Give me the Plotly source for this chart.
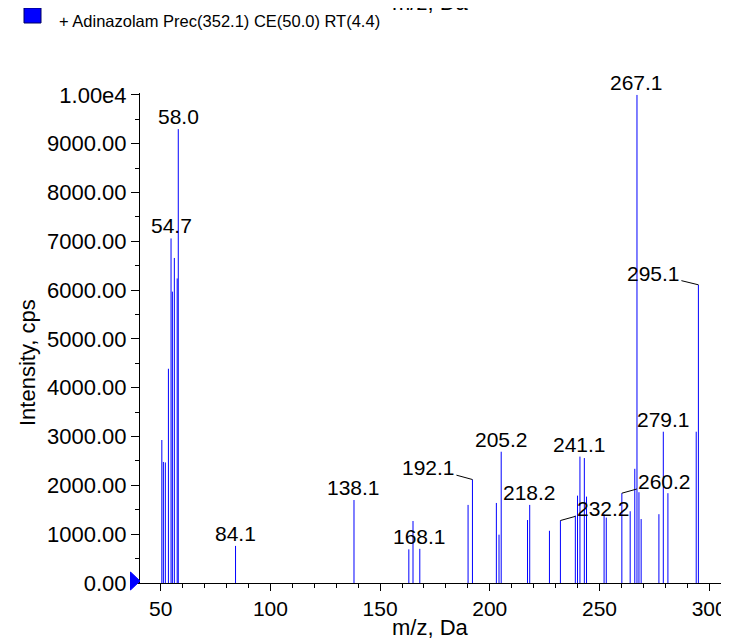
import plotly.graph_objects as go

# peak list
mz = [50.5, 51.2, 52.1, 53.5, 54.7, 55.3, 56.2, 57.5, 58.0, 84.1,
      138.1, 163.1, 165.0, 168.1, 190.1, 192.1, 203.0, 204.2, 205.2, 217.2,
      218.2, 227.2, 232.2, 239.0, 240.0, 241.1, 243.1, 244.1, 252.1, 253.1,
      260.2, 264.0, 266.1, 267.1, 268.0, 269.0, 277.1, 279.1, 281.2, 294.1,
      295.1]
intensity = [2930, 2480, 2470, 4390, 7060, 5970, 6660, 6240, 9300, 760,
             1700, 690, 1270, 700, 1600, 2120, 1640, 990, 2690, 1290,
             1600, 1070, 1280, 1380, 1790, 2590, 2560, 1770, 1410, 1340,
             1840, 1470, 2340, 10000, 1860, 1310, 1410, 3100, 1840, 3100,
             6110]

# labelled peaks; ones with a leader line get a pixel offset
plain_labels = [54.7, 58.0, 84.1, 138.1, 168.1, 205.2, 218.2, 241.1, 267.1, 279.1]
leader_labels = [192.1, 232.2, 260.2, 295.1]
leader_offsets = [(-44, -12), (43, -12), (43, -12), (-45, -11)]

y_tickvals = [0, 1000, 2000, 3000, 4000, 5000, 6000, 7000, 8000, 9000, 10000]
y_ticktext = [f"{v:.2f}" for v in y_tickvals[:-1]] + ["1.00e4"]

legend_text = "+ Adinazolam Prec(352.1) CE(50.0) RT(4.4)"

FONT = "Liberation Sans, Arial, sans-serif"
W, H = 729, 641
OFF = 8  # page body margin shifts the whole figure
L, T = 140 - OFF, 93 - OFF
R, B = W - (721 - OFF), H - (583 - OFF)
PW, PH = W - L - R, H - T - B


def px(x):
    return (x - OFF - L) / PW


def py(y):
    return (T + PH - (y - OFF)) / PH


xs, ys = [], []
for m, v in zip(mz, intensity):
    xs += [m, m, None]
    ys += [0, v, None]

fig = go.Figure()
fig.add_trace(go.Scatter(x=xs, y=ys, mode="lines",
                         line=dict(color="#0000ff", width=1),
                         hoverinfo="skip", showlegend=False, cliponaxis=False))

peak = dict(zip(mz, intensity))
label_font = dict(family=FONT, size=21, color="black")
annotations = []
for m in plain_labels:
    annotations.append(dict(x=m, y=peak[m], text=f"{m:.1f}", showarrow=False,
                            xanchor="center", yanchor="bottom", yshift=-1,
                            font=label_font))
for m, (ax, ay) in zip(leader_labels, leader_offsets):
    annotations.append(dict(x=m, y=peak[m], text=f"{m:.1f}", showarrow=True,
                            arrowhead=0, arrowwidth=1, arrowcolor="black",
                            ax=ax, ay=ay, standoff=0, font=label_font))

# axis titles, legend text and the clipped title of the panel above
annotations += [
    dict(xref="paper", yref="paper", x=px(430), y=py(627), text="m/z, Da",
         xanchor="center", yanchor="middle", showarrow=False,
         font=dict(family=FONT, size=22, color="black")),
    dict(xref="paper", yref="paper", x=px(27), y=py(363), text="Intensity, cps",
         xanchor="center", yanchor="middle", textangle=-90, showarrow=False,
         font=dict(family=FONT, size=22, color="black")),
    dict(xref="paper", yref="paper", x=px(57), y=py(21), text=legend_text,
         xanchor="left", yanchor="middle", showarrow=False,
         font=dict(family=FONT, size=16.5, color="black")),
    dict(xref="paper", yref="paper", x=px(430), y=py(2), text="m/z, Da",
         xanchor="center", yanchor="middle", showarrow=False,
         font=dict(family=FONT, size=22, color="black")),
]

shapes = [
    dict(type="rect", xref="paper", yref="paper",
         x0=px(24), x1=px(41), y0=py(23), y1=py(8),
         fillcolor="#0000ff", line=dict(color="#000060", width=1)),
    dict(type="path", xref="paper", yref="paper",
         path=f"M {px(130.5)} {py(572)} L {px(140)} {py(581)} L {px(130.5)} {py(590)} Z",
         fillcolor="#0000ff", line=dict(color="#0000ff", width=1)),
]

fig.update_layout(
    width=W, height=H,
    margin=dict(l=L, r=R, t=T, b=B, autoexpand=False),
    paper_bgcolor="white", plot_bgcolor="white",
    showlegend=False,
    annotations=annotations,
    shapes=shapes,
    font=dict(family=FONT, size=21, color="black"),
    xaxis=dict(range=[40.55, 305.4], showgrid=False, zeroline=False,
               showline=True, linecolor="black", linewidth=1, automargin=False,
               tickmode="linear", tick0=50, dtick=50,
               ticks="outside", ticklen=7, tickcolor="black",
               minor=dict(dtick=10, tick0=0, ticks="outside", ticklen=4,
                          tickcolor="black"),
               tickfont=dict(family=FONT, size=21, color="black")),
    yaxis=dict(range=[0, 10040], showgrid=False, zeroline=False,
               showline=True, linecolor="black", linewidth=1, automargin=False,
               tickmode="array", tickvals=y_tickvals, ticktext=y_ticktext,
               ticks="outside", ticklen=8, tickcolor="black",
               minor=dict(dtick=500, tick0=0, ticks="outside", ticklen=4,
                          tickcolor="black"),
               tickfont=dict(family=FONT, size=22, color="black")),
)

fig.write_html("out.html")
